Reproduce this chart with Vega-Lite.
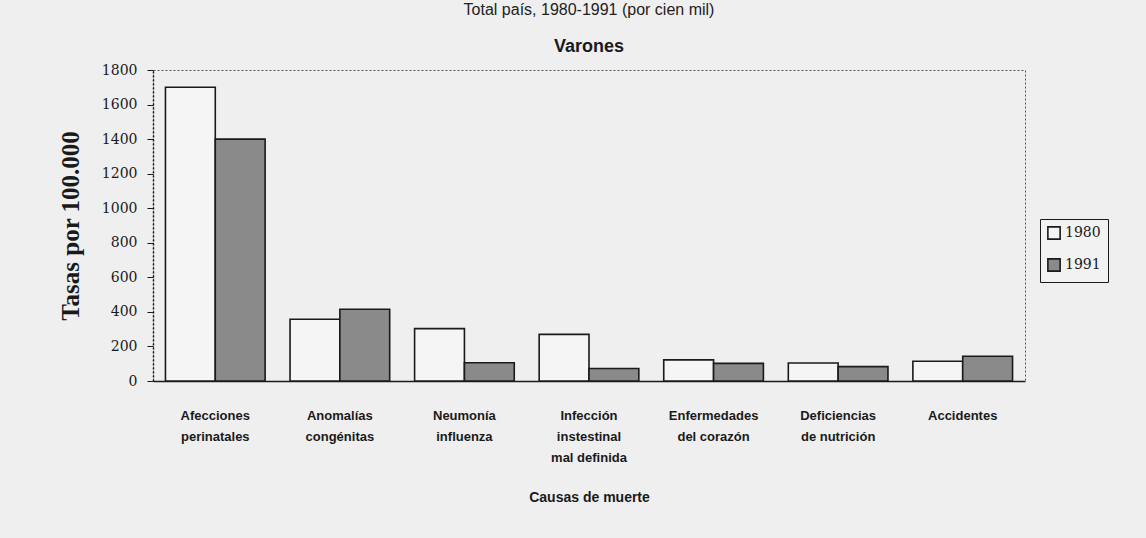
{
  "$schema": "https://vega.github.io/schema/vega-lite/v6.json",
  "autosize": {"type": "none"},
  "width": 872,
  "height": 311,
  "padding": {"left": 153, "top": 70, "right": 121, "bottom": 157},
  "background": "#efefef",
  "title": {
    "text": "Total país, 1980-1991 (por cien mil)",
    "subtitle": "Varones",
    "anchor": "middle",
    "font": "Liberation Sans",
    "fontSize": 16,
    "fontWeight": "normal",
    "color": "#222",
    "subtitleFont": "Liberation Sans",
    "subtitleFontSize": 18,
    "subtitleFontWeight": "bold",
    "subtitleColor": "#1a1a1a",
    "subtitlePadding": 20,
    "offset": 7
  },
  "data": {
    "values": [
      {"causa": "Afecciones|perinatales", "anio": "1980", "tasa": 1700},
      {"causa": "Afecciones|perinatales", "anio": "1991", "tasa": 1400},
      {"causa": "Anomalías|congénitas", "anio": "1980", "tasa": 357},
      {"causa": "Anomalías|congénitas", "anio": "1991", "tasa": 415},
      {"causa": "Neumonía|influenza", "anio": "1980", "tasa": 303},
      {"causa": "Neumonía|influenza", "anio": "1991", "tasa": 106},
      {"causa": "Infección|instestinal|mal definida", "anio": "1980", "tasa": 270},
      {"causa": "Infección|instestinal|mal definida", "anio": "1991", "tasa": 72},
      {"causa": "Enfermedades|del corazón", "anio": "1980", "tasa": 122},
      {"causa": "Enfermedades|del corazón", "anio": "1991", "tasa": 102},
      {"causa": "Deficiencias|de nutrición", "anio": "1980", "tasa": 104},
      {"causa": "Deficiencias|de nutrición", "anio": "1991", "tasa": 83},
      {"causa": "Accidentes", "anio": "1980", "tasa": 114},
      {"causa": "Accidentes", "anio": "1991", "tasa": 143}
    ]
  },
  "mark": {"type": "bar", "stroke": "#1a1a1a", "strokeWidth": 1.6},
  "encoding": {
    "x": {
      "field": "causa",
      "type": "nominal",
      "sort": null,
      "scale": {"paddingInner": 0.2, "paddingOuter": 0.1},
      "axis": {
        "title": "Causas de muerte",
        "labelExpr": "split(datum.label, '|')",
        "labelAngle": 0,
        "labelFont": "Liberation Sans",
        "labelFontSize": 13,
        "labelFontWeight": "bold",
        "labelLineHeight": 21,
        "labelColor": "#1a1a1a",
        "labelPadding": 28,
        "ticks": false,
        "tickSize": 0,
        "domainColor": "#1a1a1a",
        "domainWidth": 1.5,
        "titleFont": "Liberation Sans",
        "titleFontSize": 14,
        "titleFontWeight": "bold",
        "titleColor": "#1a1a1a",
        "titlePadding": 26
      }
    },
    "xOffset": {"field": "anio", "type": "nominal"},
    "y": {
      "field": "tasa",
      "type": "quantitative",
      "scale": {"domain": [0, 1800], "nice": false},
      "axis": {
        "title": "Tasas por 100.000",
        "values": [0, 200, 400, 600, 800, 1000, 1200, 1400, 1600, 1800],
        "format": "d",
        "grid": false,
        "labelFont": "DejaVu Serif",
        "labelFontSize": 14,
        "labelColor": "#1a1a1a",
        "labelPadding": 10,
        "tickSize": 6,
        "tickColor": "#1a1a1a",
        "domainColor": "#1a1a1a",
        "domainDash": [2, 2],
        "domainWidth": 1.5,
        "titleFont": "Liberation Serif",
        "titleFontSize": 25,
        "titleFontWeight": "bold",
        "titleColor": "#1a1a1a",
        "titlePadding": 18
      }
    },
    "fill": {
      "field": "anio",
      "type": "nominal",
      "scale": {"domain": ["1980", "1991"], "range": ["#f5f5f5", "#8a8a8a"]},
      "legend": {
        "title": null,
        "orient": "none",
        "legendX": 887,
        "legendY": 149,
        "symbolType": "square",
        "symbolSize": 150,
        "symbolStrokeColor": "#1a1a1a",
        "symbolStrokeWidth": 1.6,
        "labelFont": "DejaVu Serif",
        "labelFontSize": 14,
        "labelColor": "#1a1a1a",
        "rowPadding": 12,
        "padding": 7,
        "strokeColor": "#1a1a1a",
        "fillColor": "#f2f2f2"
      }
    }
  },
  "config": {
    "view": {"stroke": "#555", "strokeDash": [2, 2], "strokeWidth": 1}
  }
}
